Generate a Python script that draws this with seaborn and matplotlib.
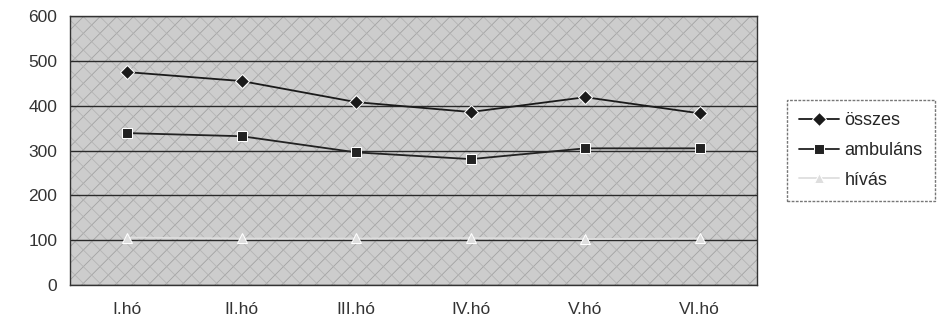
import matplotlib
matplotlib.use("Agg")
import matplotlib.pyplot as plt
import seaborn as sns
import pandas as pd
from matplotlib.patches import Rectangle

months = ["I.hó", "II.hó", "III.hó", "IV.hó", "V.hó", "VI.hó"]
osszes = [475, 455, 408, 386, 419, 383]
ambulans = [339, 332, 296, 281, 305, 305]
hivas = [106, 104, 104, 105, 103, 104]
series_names = ["összes", "ambuláns", "hívás"]

rows = []
for name, vals in zip(series_names, [osszes, ambulans, hivas]):
    for i, (m, v) in enumerate(zip(months, vals)):
        rows.append({"hónap": m, "pos": i, "érték": v, "sorozat": name})
df = pd.DataFrame(rows)

sns.set_theme(style="white")
plt.rcParams["font.family"] = ["Liberation Sans", "DejaVu Sans"]
plt.rcParams["hatch.linewidth"] = 0.6

fig = plt.figure(figsize=(9.44, 3.27), dpi=100)
ax = fig.add_axes([0.074, 0.128, 0.728, 0.823])

ax.set_facecolor("#cdcdcd")
ax.add_patch(Rectangle((0, 0), 1, 1, transform=ax.transAxes, facecolor="none",
                       edgecolor="#a2a2a2", hatch="//", linewidth=0, zorder=0.5))
ax.add_patch(Rectangle((0, 0), 1, 1, transform=ax.transAxes, facecolor="none",
                       edgecolor="#b4b4b4", hatch="\\\\", linewidth=0, zorder=0.5))

palette = {"összes": "#1a1a1a", "ambuláns": "#222222", "hívás": "#dedede"}
markers = {"összes": "D", "ambuláns": "s", "hívás": "^"}
sns.lineplot(data=df, x="pos", y="érték", hue="sorozat", style="sorozat",
             palette=palette, markers=markers, dashes=False, markersize=7,
             linewidth=1.3, ax=ax, zorder=3, legend=True)

ax.set_xlim(-0.5, 5.5)
ax.set_ylim(0, 600)
ax.set_yticks(range(0, 601, 100))
ax.set_xticks(range(6))
ax.set_xticklabels(months)
ax.set_xticks([i - 0.5 for i in range(7)], minor=True)
ax.tick_params(axis="x", which="major", length=0, pad=12, labelsize=12.5, colors="#333333")
ax.tick_params(axis="x", which="minor", length=5, width=0.8, color="#555555", direction="out")
ax.tick_params(axis="y", length=0, pad=9, labelsize=12.5, colors="#333333")
ax.yaxis.grid(True, color="#2a2a2a", linewidth=1.0, zorder=1)
ax.set_axisbelow(True)
ax.set_xlabel("")
ax.set_ylabel("")
for s in ax.spines.values():
    s.set_color("#333333")
    s.set_linewidth(1.0)
    s.set_visible(True)

handles, labels = ax.get_legend_handles_labels()
leg = ax.legend(handles, labels, loc="center left", bbox_to_anchor=(1.03, 0.5),
                frameon=True, fancybox=False, edgecolor="#555555", fontsize=13,
                handlelength=2.2, handletextpad=0.3, labelspacing=0.7, borderpad=0.7)
leg.get_frame().set_linewidth(1.0)
leg.get_frame().set_linestyle((0, (2, 1)))

fig.savefig("out.png", dpi=100)
